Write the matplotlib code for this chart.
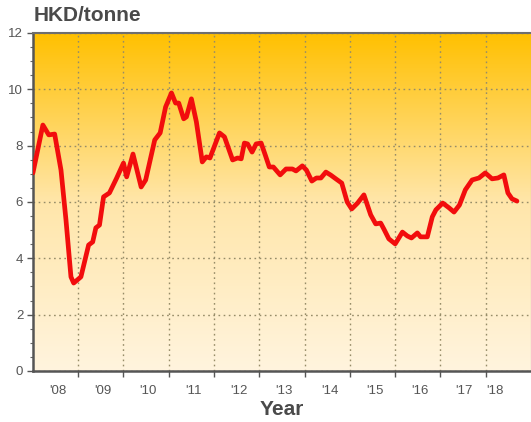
import numpy as np
import matplotlib
matplotlib.use("Agg")
import matplotlib.pyplot as plt
from matplotlib.colors import LinearSegmentedColormap

plt.rcParams['font.family'] = ['Liberation Sans', 'DejaVu Sans']

# price series (time in fractional years, HKD/tonne)
years = [2008.00, 2008.22, 2008.35, 2008.48, 2008.62, 2008.73, 2008.84, 2008.90,
         2009.06, 2009.23, 2009.32, 2009.39, 2009.47, 2009.56, 2009.69, 2009.85,
         2010.00, 2010.07, 2010.21, 2010.39, 2010.49, 2010.69, 2010.81, 2010.93,
         2011.06, 2011.15, 2011.22, 2011.33, 2011.39, 2011.50, 2011.61, 2011.74,
         2011.83, 2011.91, 2012.12, 2012.23, 2012.41, 2012.52, 2012.60, 2012.67,
         2012.74, 2012.84, 2012.93, 2013.04, 2013.13, 2013.22, 2013.31, 2013.46,
         2013.59, 2013.73, 2013.81, 2013.95, 2014.04, 2014.16, 2014.26, 2014.36,
         2014.47, 2014.58, 2014.69, 2014.82, 2014.94, 2015.04, 2015.17, 2015.31,
         2015.46, 2015.57, 2015.68, 2015.75, 2015.86, 2016.00, 2016.07, 2016.16,
         2016.27, 2016.36, 2016.49, 2016.56, 2016.71, 2016.82, 2016.90, 2017.05,
         2017.19, 2017.30, 2017.42, 2017.55, 2017.70, 2017.85, 2017.99, 2018.14,
         2018.27, 2018.40, 2018.49, 2018.58, 2018.69]
price = [7.03, 8.73, 8.38, 8.41, 7.13, 5.36, 3.34, 3.12,
         3.34, 4.47, 4.58, 5.08, 5.18, 6.18, 6.32, 6.85,
         7.38, 6.89, 7.70, 6.53, 6.78, 8.20, 8.45, 9.37,
         9.87, 9.51, 9.51, 8.95, 9.02, 9.66, 8.84, 7.42,
         7.60, 7.56, 8.45, 8.31, 7.49, 7.56, 7.53, 8.09,
         8.06, 7.77, 8.06, 8.09, 7.67, 7.24, 7.24, 6.96,
         7.17, 7.17, 7.10, 7.28, 7.13, 6.74, 6.85, 6.85,
         7.06, 6.95, 6.82, 6.67, 6.00, 5.75, 5.96, 6.25,
         5.54, 5.22, 5.25, 5.04, 4.69, 4.51, 4.69, 4.93,
         4.79, 4.72, 4.90, 4.76, 4.76, 5.47, 5.72, 5.96,
         5.79, 5.64, 5.89, 6.43, 6.78, 6.85, 7.03, 6.82,
         6.85, 6.96, 6.32, 6.11, 6.03]

year_bounds = list(range(2009, 2019))
label_pos = [2008.55, 2009.55, 2010.55, 2011.55, 2012.55, 2013.55, 2014.55,
             2015.55, 2016.55, 2017.52, 2018.2]
label_txt = ["'08", "'09", "'10", "'11", "'12", "'13", "'14", "'15", "'16", "'17", "'18"]

fig = plt.figure(figsize=(5.31, 4.22), dpi=100)
ax = fig.add_axes([0.062, 0.121, 0.938, 0.801])

# vertical background gradient
cmap = LinearSegmentedColormap.from_list("bg", ["#FFF4DE", "#FFE6AA", "#FFC000"])
grad = np.linspace(0, 1, 256).reshape(-1, 1)
ax.imshow(grad, cmap=cmap, aspect='auto', extent=[0, 1, 0, 1],
          transform=ax.transAxes, origin='lower', zorder=0)

ax.plot(years, price, color='#F20D0D', lw=3.4, solid_joinstyle='round',
        solid_capstyle='round', zorder=3)

ax.set_xlim(2008, 2019)
ax.set_ylim(0, 12)

ax.set_yticks(range(0, 13, 2))
ax.set_yticks(np.arange(0, 12.01, 0.5), minor=True)
ax.set_xticks(year_bounds)
ax.set_xticklabels([])
ax.set_xticks(label_pos, minor=True)
ax.set_xticklabels(label_txt, minor=True)

ax.tick_params(axis='y', which='major', direction='out', length=4, width=1,
               color='#555555', labelcolor='#555555', labelsize=9.5, pad=3)
ax.tick_params(axis='y', which='minor', direction='out', length=2, width=0.8,
               color='#666666')
ax.tick_params(axis='x', which='major', direction='out', length=4, width=1,
               color='#555555')
ax.tick_params(axis='x', which='minor', length=0, labelcolor='#555555',
               labelsize=9.5, pad=10)

ax.grid(True, which='major', linestyle=(0, (1.2, 2.5)), color='#968C68',
        linewidth=1, zorder=1)
for gl in ax.get_xgridlines() + ax.get_ygridlines():
    gl.set_zorder(1)

for side in ['left', 'bottom']:
    ax.spines[side].set_color('#555555')
    ax.spines[side].set_linewidth(1.8)
ax.spines['top'].set_color('#6E6E6E')
ax.spines['top'].set_linewidth(1.5)
ax.spines['right'].set_color('#999999')
ax.spines['right'].set_linewidth(0.8)

ax.set_xlabel('Year', fontsize=15, fontweight='bold', color='#4A4A4A', labelpad=2)
fig.text(0.064, 0.940, 'HKD/tonne', fontsize=15, fontweight='bold',
         color='#4A4A4A', ha='left', va='bottom')

fig.savefig('out.png', dpi=100)
